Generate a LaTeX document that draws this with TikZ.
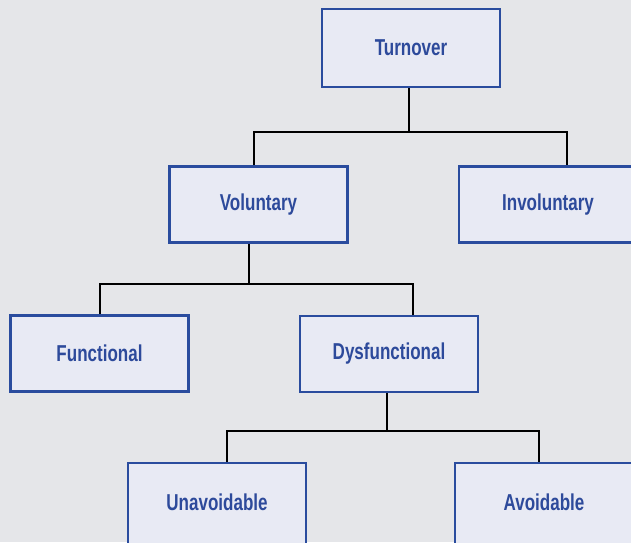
\documentclass[tikz,border=0pt]{standalone}
\usepackage{fontspec}
\newfontfamily\condfont[FakeStretch=0.74]{Liberation Sans}
\definecolor{bg}{HTML}{E5E6E9}
\definecolor{boxfill}{HTML}{E8EAF4}
\definecolor{boxline}{HTML}{2A4C9E}
\definecolor{boxtext}{HTML}{2D4A9B}
\tikzset{
  box/.style={draw=boxline, line width=2.8pt, fill=boxfill, minimum width=178pt, minimum height=76pt,
    inner sep=0pt, font=\condfont\bfseries\fontsize{23}{26}\selectfont, text=boxtext, anchor=center},
  cutbox/.style={box, minimum height=90pt, text height=16pt, text depth=12pt},
  conn/.style={draw=black, line width=2.8pt, line join=miter}
}
\begin{document}
\begin{tikzpicture}[x=1pt,y=-1pt]
\useasboundingbox (0,0) rectangle (631,542);
\fill[bg] (0,0) rectangle (631,542);
\clip (0,0) rectangle (631,542);
% junction coordinates
\coordinate (j1) at (409,132);
\coordinate (j1l) at (254,132);
\coordinate (j1r) at (567,132);
\coordinate (j2) at (249,284);
\coordinate (j2l) at (100,284);
\coordinate (j2r) at (413,284);
\coordinate (j3) at (387,431);
\coordinate (j3l) at (227,431);
\coordinate (j3r) at (539,431);
% boxes
\node[box, minimum height=78pt] (turn) at (411,48) {Turnover};
\node[box] (vol) at (258.5,204.5) {Voluntary};
\node[box] (inv) at (548,204.5) {Involuntary};
\node[box] (fun) at (99.5,353.5) {Functional};
\node[box] (dys) at (389,354) {Dysfunctional};
\node[cutbox] (una) at (217,508) {Unavoidable};
\node[cutbox] (avo) at (544,508) {Avoidable};
% connectors
\draw[conn] (turn.south -| j1) -- (j1);
\draw[conn] (vol.north -| j1l) -- (j1l) -- (j1r) -- (inv.north -| j1r);
\draw[conn] (vol.south -| j2) -- (j2);
\draw[conn] (fun.north -| j2l) -- (j2l) -- (j2r) -- (dys.north -| j2r);
\draw[conn] (dys.south -| j3) -- (j3);
\draw[conn] (una.north -| j3l) -- (j3l) -- (j3r) -- (avo.north -| j3r);
\end{tikzpicture}
\end{document}
